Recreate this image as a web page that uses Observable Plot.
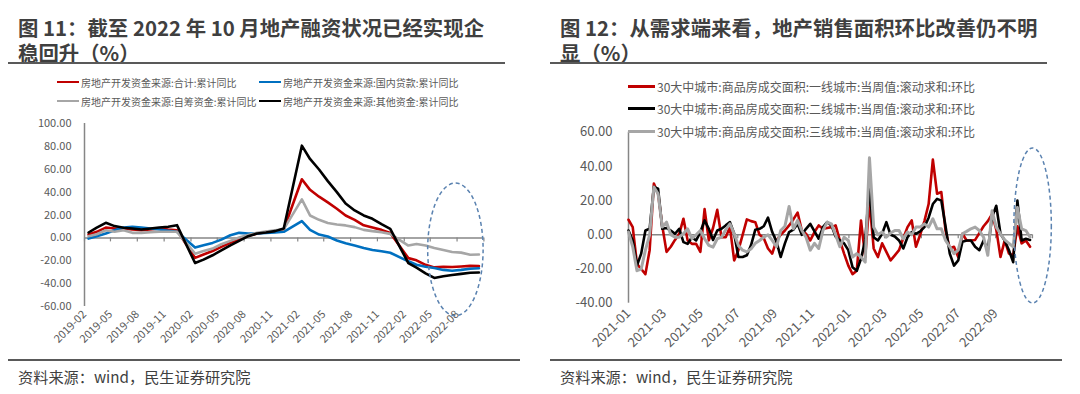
<!DOCTYPE html>
<html><head><meta charset="utf-8">
<script src="https://cdn.jsdelivr.net/npm/d3@7"></script>
<script src="https://cdn.jsdelivr.net/npm/@observablehq/plot@0.6"></script>
<style>
body{margin:0;background:#fff;}
#page{position:relative;width:1080px;height:394px;overflow:hidden;background:#fff;font-family:"Noto Sans CJK SC","Noto Sans",sans-serif;}
.title{position:absolute;font-weight:bold;font-size:20.4px;line-height:25px;height:25px;color:#3f3f3f;white-space:nowrap;}
.rule{position:absolute;height:2px;background:#595959;}
.src{position:absolute;font-size:15.2px;line-height:18px;color:#404040;white-space:nowrap;}
.leg{position:absolute;display:flex;align-items:center;white-space:nowrap;color:#595959;z-index:5;}
.leg .sw{display:inline-block;margin-right:2px;}
.plot{position:absolute;}
.plot svg{overflow:visible;}
</style></head>
<body><div id="page"></div>
<script>
// ---------------- Left chart data (图11) ----------------
const leftMonths = [
  "2019-02","2019-03","2019-04","2019-05","2019-06","2019-07","2019-08","2019-09","2019-10","2019-11","2019-12",
  "2020-02","2020-03","2020-04","2020-05","2020-06","2020-07","2020-08","2020-09","2020-10","2020-11","2020-12",
  "2021-02","2021-03","2021-04","2021-05","2021-06","2021-07","2021-08","2021-09","2021-10","2021-11","2021-12",
  "2022-02","2022-03","2022-04","2022-05","2022-06","2022-07","2022-08","2022-09","2022-10"];
const totalYoY = [2.9,5.3,9,8.2,8.2,7.3,6.7,7.3,8.2,7.3,6.7,
  -17.5,-14.5,-11.5,-7.9,-4.4,-1.5,1.8,3.8,5,5.9,7.3,
  51.2,42,36,31,25.5,19.6,15.8,11,9,7,4.2,
  -17.7,-19.6,-23.6,-25.8,-25.3,-25.4,-25,-24.5,-24.7];
const loanYoY = [-0.6,1.5,3.8,6.7,9,9.7,9,8.2,7.3,6.2,5.3,
  -8.5,-6.5,-4.4,-1.5,2.3,4.4,3.8,3.8,4.4,4.7,5.3,
  14.7,7,2.9,1.2,-2.3,-4.7,-6.7,-8.8,-10.6,-11.7,-13,
  -20.5,-23.5,-25.2,-26.4,-28,-28.7,-28,-27,-26.6];
const selfYoY = [1.5,3.2,6.7,5.3,6.7,4.4,4.4,5,5.3,5.3,5.3,
  -13.8,-11.4,-9.4,-5.6,-2.6,0.3,2.6,4.4,5.6,6.7,7.6,
  33.7,19.6,15.8,13,11.7,10.9,9.4,7,5.9,5,3.5,
  -6.7,-5.3,-6.7,-8.8,-10.6,-12.3,-12.9,-14.7,-14.5];
const otherYoY = [4.7,9,13.2,10.3,8.8,8.2,7.3,8.2,9,9.7,11.1,
  -22,-19,-15.2,-10.9,-6.5,-2.6,1.5,3.8,4.7,5.9,8.2,
  80.6,69,59.8,49.6,40,30,24,19.6,16.7,12,7.9,
  -22,-26,-31,-35,-33.5,-32.5,-31.5,-30.5,-30.3];
const leftNames = ["房地产开发资金来源:合计:累计同比","房地产开发资金来源:国内贷款:累计同比",
  "房地产开发资金来源:自筹资金:累计同比","房地产开发资金来源:其他资金:累计同比"];
const leftColors = ["#C00000","#0070C0","#A6A6A6","#000000"];
const leftYTicks = [-60,-40,-20,0,20,40,60,80,100];
const leftTickLabels = ["2019-02","2019-05","2019-08","2019-11","2020-02","2020-05","2020-08","2020-11",
  "2021-02","2021-05","2021-08","2021-11","2022-02","2022-05","2022-08"];
const leftTickMarks = [...leftTickLabels, "2022-11"];
const leftHighlight = {from:"2022-04-24", to:"2022-10-31", low:-68.5, high:47.5};

// ---------------- Right chart data (图12) ----------------
const weekStart = "2021-01-01";
const tier1 = [8.8,4.5,-17,-20,-23,-9,30,24,5,-10,
  -7,-3,0.6,9.4,-3.3,-5.3,-5.3,-10,15,-3.3,
  4,14.6,-1.4,-1.4,4.5,-15,-9,0,9,8,
  7.4,0,-2,-8,-11,-3.3,0,2.5,5.5,9,
  13,2.5,0.6,-3.3,1.6,5.5,3.5,4,4.5,5.5,
  -3.3,-11,-18,-23,-21,8.4,-13,20,-8,-13,
  -5,-10,-15,-12,-9,-2,4.5,8.4,-7,0,
  8,18,44,24,25,2.5,-8,-7,-13,0.6,
  -3.3,-3.3,-3,1,5,8,12,3,-13,-3.3,
  -11,-12,5,-5,-3.3,-7];
const tier2 = [2.5,-3.3,-18,-11,2.5,3.5,28,27,3.5,4,
  2.5,0.6,3.5,-4.3,-5.3,-1.4,-3.3,1.6,8.4,3.5,
  -3,2.5,3.5,5.5,7.4,0.6,-13,-13,-12,-6,
  3,3.5,5,10,1.6,-4,-13,-5,1.6,3,
  6.4,0,3.5,6.4,2,-2.3,4.5,7.4,5.5,-1,
  -3.3,-5,-9,-19,-21,-14,-3,28,-1.4,-3.3,
  0.6,7.4,0,-1,-3.3,-8,-1.4,1.6,0.6,2,
  4.5,10,18,21,20,5,-11,-18,-15,-4,
  -3.3,-3.3,-7,-9,-3.3,-9,10.3,17,0.6,-3.3,
  -9,-16,20,-3.3,-2.3,-3];
const tier3 = [1.6,-7,-21,-20,-9,0,28,24,4.5,7.4,
  0,-1.4,-1.4,0.6,3.5,-2.3,0,2.5,-2.3,-6.2,
  -7.2,-2.3,-1.4,3,6.4,0.6,-6.2,-9,-10,-8.2,
  -5,-3.3,-1.4,0,-3.3,-7,2.5,5,16.6,3.5,
  8.4,2.5,-1.4,-9,-5,-8,2.5,7.4,6.4,0,
  -7,-1.4,-3.3,-13,-11,-13,-16,45,4.5,0,
  1.6,-1.4,1,2.5,2.5,-2.3,1.6,0,4.5,4.5,
  6.4,4.5,9.4,3.5,3.5,-3.3,-7,-11,-9,0.6,
  2,3.5,4.5,2.5,-1.4,-12,14,4.5,0.6,-3,
  -5,-7,16,3.5,2.5,-1.4];
const rightNames = ["30大中城市:商品房成交面积:一线城市:当周值:滚动求和:环比",
  "30大中城市:商品房成交面积:二线城市:当周值:滚动求和:环比",
  "30大中城市:商品房成交面积:三线城市:当周值:滚动求和:环比"];
const rightColors = ["#C00000","#000000","#A6A6A6"];
const rightYTicks = [-40,-20,0,20,40,60];
const rightTickLabels = ["2021-01","2021-03","2021-05","2021-07","2021-09","2021-11",
  "2022-01","2022-03","2022-05","2022-07","2022-09"];
const rightTickMarks = [...rightTickLabels, "2022-11"];
const rightHighlight = {from:"2022-10-02", to:"2022-12-03", low:-40.2, high:50.5};

// ---------------- Texts ----------------
const titleLeft = ["图 11：截至 2022 年 10 月地产融资状况已经实现企","稳回升（%）"];
const titleRight = ["图 12：从需求端来看，地产销售面积环比改善仍不明","显（%）"];
const sourceText = "资料来源：wind，民生证券研究院";

// ---------------- Build ----------------
const page = document.getElementById("page");
const FONT = '"Noto Sans CJK SC","Noto Sans",sans-serif';
const ym = s => new Date(s + "-01T00:00:00Z");
const midMonth = s => new Date(s + "-15T00:00:00Z");
const fmtYM = d3.utcFormat("%Y-%m");

function addDiv(cls, style, html) {
  const d = document.createElement("div");
  d.className = cls; Object.assign(d.style, style); d.innerHTML = html || "";
  page.appendChild(d); return d;
}
titleLeft.forEach((t,i) => addDiv("title", {left:"18px", top:(15+25*i)+"px"}, t));
titleRight.forEach((t,i) => addDiv("title", {left:"560px", top:(15+25*i)+"px"}, t));
addDiv("rule", {left:"8px", top:"62px", width:"497px"});
addDiv("rule", {left:"550px", top:"62px", width:"497px"});
addDiv("rule", {left:"8px", top:"359px", width:"512px"});
addDiv("rule", {left:"550px", top:"359px", width:"512px"});
addDiv("src", {left:"18px", top:"367px"}, sourceText);
addDiv("src", {left:"560px", top:"367px"}, sourceText);

// legends
const leftLegPos = [[57,82],[259,82],[57,101],[259,101]];
leftNames.forEach((n,i) => {
  addDiv("leg", {left:leftLegPos[i][0]+"px", top:(leftLegPos[i][1]-8)+"px", height:"16px", fontSize:"10px"},
    `<span class="sw" style="width:22px;height:2.5px;background:${leftColors[i]}"></span>${n}`);
});
const rightLegPos = [[628,86],[628,108],[628,131]];
rightNames.forEach((n,i) => {
  addDiv("leg", {left:rightLegPos[i][0]+"px", top:(rightLegPos[i][1]-9)+"px", height:"18px", fontSize:"12px"},
    `<span class="sw" style="width:27px;height:3px;background:${rightColors[i]}"></span>${n}`);
});

function highlight(svg, chart, h) {
  const sx = chart.scale("x"), sy = chart.scale("y");
  const x1 = sx.apply(new Date(h.from+"T00:00:00Z")), x2 = sx.apply(new Date(h.to+"T00:00:00Z"));
  const y1 = sy.apply(h.high), y2 = sy.apply(h.low);
  d3.select(svg).append("ellipse")
    .attr("cx",(x1+x2)/2).attr("cy",(y1+y2)/2).attr("rx",(x2-x1)/2).attr("ry",(y2-y1)/2)
    .attr("fill","none").attr("stroke","#5a82b0").attr("stroke-width",1.5).attr("stroke-dasharray","4,3");
}

// Left plot
const leftData = leftNames.flatMap((n,s) => leftMonths.map((m,i) => ({
  date: midMonth(m), value: [totalYoY,loanYoY,selfYoY,otherYoY][s][i], series: n})));
const leftDomain = [ym(leftTickMarks[0]), ym(leftTickMarks[leftTickMarks.length-1])];
const leftPlot = Plot.plot({
  width:540, height:250, marginLeft:84, marginRight:56.6, marginTop:13, marginBottom:54,
  style:{fontFamily:FONT, fontSize:"11px", color:"#595959", background:"none", overflow:"visible"},
  x:{type:"utc", domain:leftDomain},
  y:{domain:[d3.min(leftYTicks), d3.max(leftYTicks)]},
  marks:[
    Plot.ruleY([0], {stroke:"#868686", strokeWidth:1.5}),
    Plot.ruleX(leftTickMarks.map(ym), {x:d=>d, y1:0, y2:0, insetBottom:-4, stroke:"#868686", strokeWidth:1.2}),
    Plot.ruleX([leftDomain[0]], {y1:d3.min(leftYTicks), y2:d3.max(leftYTicks), stroke:"#868686", strokeWidth:1.5}),
    Plot.axisY({ticks:leftYTicks, tickFormat:d=>d.toFixed(2), tickSize:0, tickPadding:13, fontSize:11, label:null}),
    Plot.axisX({ticks:leftTickLabels.map(ym), tickFormat:fmtYM, tickRotate:-45, tickSize:0, tickPadding:6, fontSize:11, label:null}),
    ...leftNames.map((n,i) => Plot.line(leftData.filter(d=>d.series===n),
      {x:"date", y:"value", stroke:leftColors[i], strokeWidth:2.6, strokeLinejoin:"round"}))
  ]
});
const lw = addDiv("plot", {left:"0px", top:"110px"});
lw.appendChild(leftPlot);
highlight(leftPlot, leftPlot, leftHighlight);

// Right plot
const w0 = new Date(weekStart+"T00:00:00Z");
const rightSeriesVals = [tier1, tier2, tier3];
const rightData = rightNames.flatMap((n,s) => rightSeriesVals[s].map((v,i) => ({
  date: d3.utcDay.offset(w0, 7*i), value: v, series: n})));
const rightDomain = [ym(rightTickMarks[0]), ym(rightTickMarks[rightTickMarks.length-1])];
const rightPlot = Plot.plot({
  width:540, height:250, marginLeft:88, marginRight:48, marginTop:21.7, marginBottom:57.3,
  style:{fontFamily:FONT, fontSize:"13px", color:"#595959", background:"none", overflow:"visible"},
  x:{type:"utc", domain:rightDomain},
  y:{domain:[d3.min(rightYTicks), d3.max(rightYTicks)]},
  marks:[
    Plot.ruleY([0], {stroke:"#868686", strokeWidth:1.5}),
    Plot.ruleX(rightTickMarks.map(ym), {x:d=>d, y1:0, y2:0, insetBottom:-4, stroke:"#868686", strokeWidth:1.2}),
    Plot.ruleX([rightDomain[0]], {y1:d3.min(rightYTicks), y2:d3.max(rightYTicks), stroke:"#868686", strokeWidth:1.5}),
    Plot.axisY({ticks:rightYTicks, tickFormat:d=>d.toFixed(2), tickSize:0, tickPadding:16, fontSize:13, label:null}),
    Plot.axisX({ticks:rightTickLabels.map(ym), tickFormat:fmtYM, tickRotate:-45, tickSize:0, tickPadding:8, fontSize:13, label:null}),
    ...rightNames.map((n,i) => Plot.line(rightData.filter(d=>d.series===n),
      {x:"date", y:"value", stroke:rightColors[i], strokeWidth:i===2?3:2.6, strokeLinejoin:"round"}))
  ]
});
const rw = addDiv("plot", {left:"540px", top:"110px"});
rw.appendChild(rightPlot);
highlight(rightPlot, rightPlot, rightHighlight);
</script>
</body></html>
